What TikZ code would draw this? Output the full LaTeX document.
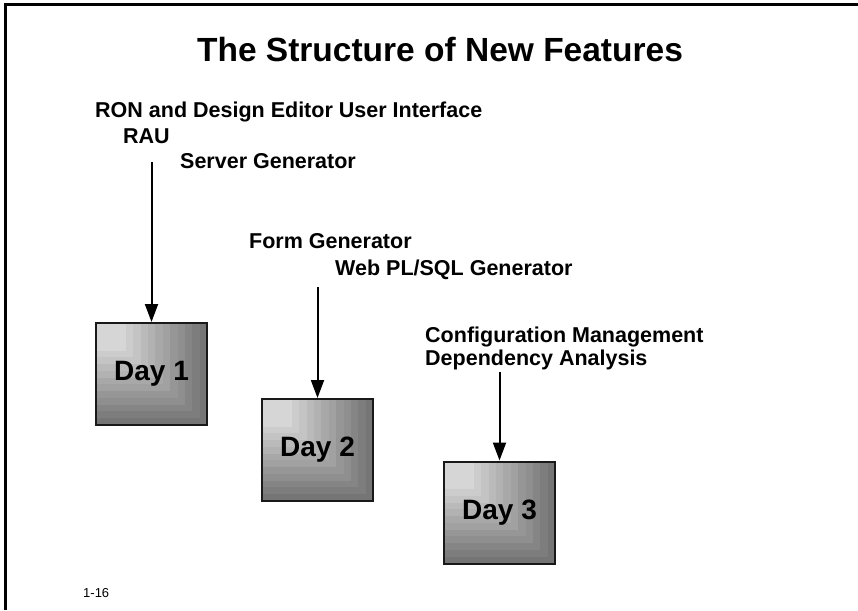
\documentclass[tikz,border=0pt]{standalone}
\usepackage{fontspec}
\setmainfont{Liberation Sans}
\usetikzlibrary{arrows.meta,calc}
\tikzset{
  daybox/.style={minimum width=111pt, minimum height=102pt, inner sep=0pt,
    draw=black!90, line width=2pt, font=\fontsize{28}{31}\selectfont\bfseries,
    path picture={
      \foreach \i in {0,...,11}{
        \pgfmathsetmacro\f{1-\i*0.73/11}
        \pgfmathsetmacro\g{int(46+\i*38/11)}
        \fill[white!\g!black] (path picture bounding box.north west) rectangle
          ($(path picture bounding box.north west)!\f!(path picture bounding box.south east)$);
      }
    }},
  feat/.style={anchor=base west, inner sep=0pt, font=\fontsize{21.5}{25}\selectfont\bfseries},
  flow/.style={line width=2pt, -{Triangle[length=18pt,width=13pt]}},
  frame/.style={line width=3pt}
}
\begin{document}
\begin{tikzpicture}[x=1pt,y=-1pt]
\useasboundingbox (0,0) rectangle (858,610);
\fill[white] (0,0) rectangle (858,610);
\draw[frame] (5,610) -- (5,5) -- (858,5);
\node[anchor=base, inner sep=0pt, font=\fontsize{33.5}{38}\selectfont\bfseries] (title) at (440,62) {The Structure of New Features};
\node[feat] (ron) at (95,117) {RON and Design Editor User Interface};
\node[feat] (rau) at (123,143) {RAU};
\node[feat] (srv) at (180,168) {Server Generator};
\node[feat] (form) at (249,248) {Form Generator};
\node[feat] (web) at (335,275) {Web PL/SQL Generator};
\node[feat] (cfg) at (425,342) {Configuration Management};
\node[feat] (dep) at (425,365) {Dependency Analysis};
\node[anchor=base west, inner sep=0pt, font=\fontsize{13}{15}\selectfont] (pg) at (83,597) {1-16};
\node[daybox] (day1) at (151.5,374) {Day 1};
\node[daybox] (day2) at (317.5,450) {Day 2};
\node[daybox] (day3) at (499.5,512.5) {Day 3};
\coordinate (a1) at (151.5,162);
\coordinate (a2) at (317.5,287);
\coordinate (a3) at (499.5,372);
\draw[flow] (a1) -- (day1.north);
\draw[flow] (a2) -- (day2.north);
\draw[flow] (a3) -- (day3.north);
\end{tikzpicture}
\end{document}
